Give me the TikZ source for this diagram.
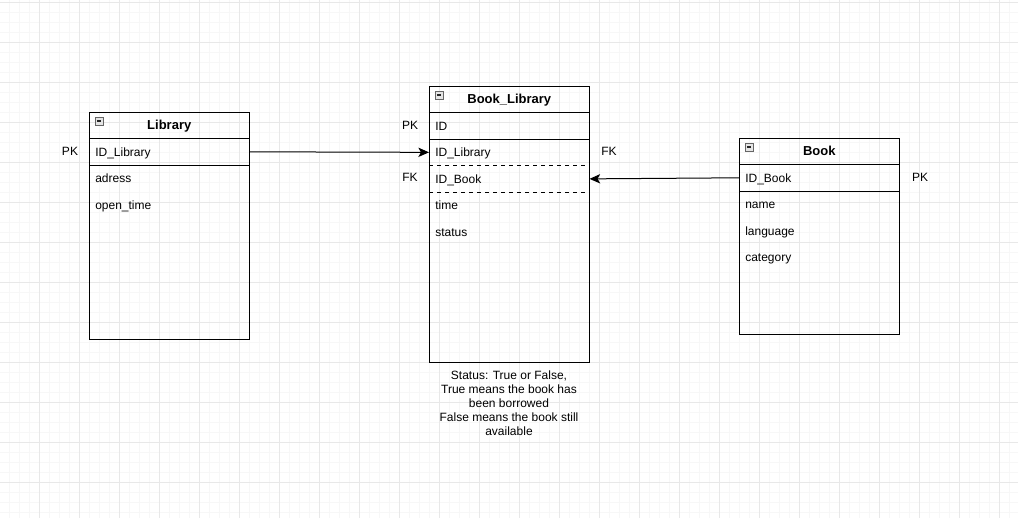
\documentclass[tikz,border=0pt]{standalone}
\usepackage{fontspec}
\setmainfont{Liberation Sans}
\usetikzlibrary{arrows.meta}
\tikzset{
	minorgrid/.style={draw=black!3,line width=0.5pt},
	majorgrid/.style={draw=black!9,line width=0.75pt},
	tbl/.style={draw,line width=0.75pt,anchor=north west,minimum width=120pt,inner sep=0pt},
	head/.style={anchor=north west,minimum width=120pt,minimum height=19.5pt,inner sep=0pt,text height=7pt,text depth=0pt,font=\bfseries\fontsize{9.75}{12}\selectfont},
	field/.style={anchor=north west,minimum height=19.5pt,text width=111pt,inner xsep=4.5pt,inner ysep=0pt,text height=6.5pt,text depth=0pt,align=left,font=\fontsize{9}{11}\selectfont},
	keylbl/.style={font=\fontsize{9}{11}\selectfont},
	sep/.style={line width=0.75pt},
	link/.style={-{Stealth[length=8pt,width=7pt,inset=2pt]},line width=0.75pt},
}
\newcommand{\collapsebox}[2]{\draw[draw=gray!80!black,fill=gray!20,line width=0.5pt] (#1,#2) rectangle ++(8,8);
	\draw[line width=0.8pt,gray!30!black] (#1+2,#2+4) -- ++(4,0);}
\begin{document}
\begin{tikzpicture}[x=0.75pt,y=-0.75pt]
	\useasboundingbox (0,0) rectangle (1018,518);
	\foreach \gx in {9,19,...,1009} \draw[minorgrid] (\gx,0) -- (\gx,518);
	\foreach \gy in {2,12,...,512} \draw[minorgrid] (0,\gy) -- (1018,\gy);
	\foreach \gx in {39,79,...,999} \draw[majorgrid] (\gx,0) -- (\gx,518);
	\foreach \gy in {2,42,...,482} \draw[majorgrid] (0,\gy) -- (1018,\gy);
	% Library
	\node[tbl,minimum height=170.25pt] (lib) at (89,112) {};
	\node[head] (lib-head) at (89,112) {Library};
	\node[field] (lib-id) at (lib-head.south west) {ID\_Library};
	\node[field] (lib-adr) at (lib-id.south west) {adress};
	\node[field] (lib-open) at (lib-adr.south west) {open\_time};
	\draw[sep] (lib-head.south west) -- (lib-head.south east) (lib-id.south west) -- (lib-id.south east);
	\collapsebox{95}{117}
	% Book_Library
	\node[tbl,minimum height=207pt] (bl) at (429,86) {};
	\node[head] (bl-head) at (429,86) {Book\_Library};
	\node[field] (bl-id) at (bl-head.south west) {ID};
	\node[field] (bl-idlib) at (bl-id.south west) {ID\_Library};
	\node[field] (bl-idbook) at (bl-idlib.south west) {ID\_Book};
	\node[field] (bl-time) at (bl-idbook.south west) {time};
	\node[field] (bl-status) at (bl-time.south west) {status};
	\draw[sep] (bl-head.south west) -- (bl-head.south east) (bl-id.south west) -- (bl-id.south east);
	\draw[sep,dashed] (bl-idlib.south west) -- (bl-idlib.south east) (bl-idbook.south west) -- (bl-idbook.south east);
	\collapsebox{435}{91}
	% Book
	\node[tbl,minimum height=147pt] (bk) at (739,138) {};
	\node[head] (bk-head) at (739,138) {Book};
	\node[field] (bk-id) at (bk-head.south west) {ID\_Book};
	\node[field] (bk-name) at (bk-id.south west) {name};
	\node[field] (bk-lang) at (bk-name.south west) {language};
	\node[field] (bk-cat) at (bk-lang.south west) {category};
	\draw[sep] (bk-head.south west) -- (bk-head.south east) (bk-id.south west) -- (bk-id.south east);
	\collapsebox{745}{143}
	% keys
	\node[keylbl] (pk-lib) at (70,151) {PK};
	\node[keylbl] (pk-bl) at (410,125) {PK};
	\node[keylbl] (fk-book) at (410,177) {FK};
	\node[keylbl] (fk-lib) at (609,151) {FK};
	\node[keylbl] (pk-bk) at (920,177) {PK};
	% links
	\draw[link] (lib-id.east) -- (bl-idlib.west);
	\draw[link] (bk-id.west) -- (bl-idbook.east);
	% note
	\node[align=center,font=\fontsize{9}{10.5}\selectfont] (note) at (509,403) {Status: True or False,\\True means the book has\\been borrowed\\False means the book still\\available};
\end{tikzpicture}
\end{document}
